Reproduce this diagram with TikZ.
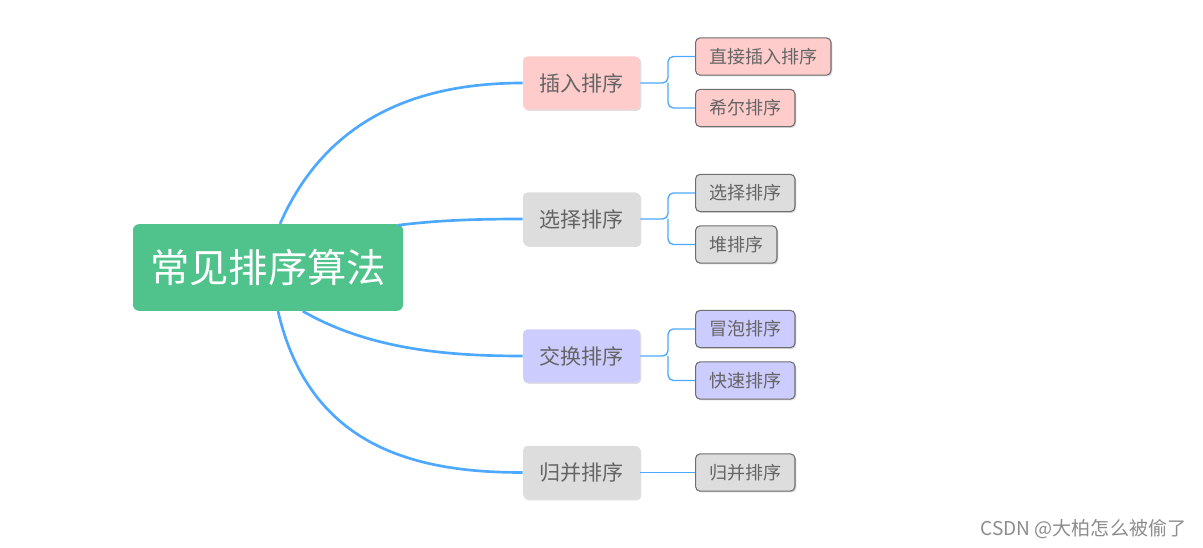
\documentclass[tikz,border=0pt]{standalone}
\usepackage{fontspec}
\setmainfont{Noto Sans CJK SC}
\usetikzlibrary{shadows}
\definecolor{rootgreen}{RGB}{80,195,140}
\definecolor{linkblue}{RGB}{77,169,255}
\definecolor{pinkfill}{RGB}{255,204,204}
\definecolor{greyfill}{RGB}{221,221,221}
\definecolor{bluefill}{RGB}{204,204,255}
\definecolor{txtgrey}{RGB}{100,100,100}
\definecolor{edgegrey}{RGB}{110,110,110}
\tikzset{
  rootbox/.style={fill=rootgreen, rounded corners=4.5pt, text=white, font=\fontsize{29.5}{31}\selectfont, minimum width=202.5pt, minimum height=65pt, inner sep=0pt},
  mainbox/.style={rounded corners=3.5pt, text=txtgrey, font=\fontsize{15.8}{17}\selectfont, minimum width=87.75pt, minimum height=40pt, inner sep=0pt, drop shadow={shadow xshift=1pt, shadow yshift=-1pt, opacity=0.25}},
  subbox/.style={draw=edgegrey, line width=0.8pt, rounded corners=3.5pt, text=txtgrey, font=\fontsize{13.5}{15}\selectfont, minimum height=28pt, inner xsep=10.3pt, inner ysep=0pt, drop shadow={shadow xshift=1pt, shadow yshift=-1pt, opacity=0.3}},
  biglink/.style={draw=linkblue, line width=2pt},
  smalllink/.style={draw=linkblue, line width=1pt, rounded corners=4pt},
}
\begin{document}
\begin{tikzpicture}[x=0.75pt,y=-0.75pt]
\useasboundingbox (0,0) rectangle (1203,548);
% root
\node[rootbox] (root) at (268,267.5) {常见排序算法};
% level 1
\node[mainbox, fill=pinkfill] (n1) at (581.5,83) {插入排序};
\node[mainbox, fill=greyfill] (n2) at (581.5,219) {选择排序};
\node[mainbox, fill=bluefill] (n3) at (581.5,356) {交换排序};
\node[mainbox, fill=greyfill] (n4) at (581.5,472.5) {归并排序};
% level 2
\node[subbox, fill=pinkfill, anchor=west] (c1) at (695,56.5) {直接插入排序};
\node[subbox, fill=pinkfill, anchor=west] (c2) at (695,108) {希尔排序};
\node[subbox, fill=greyfill, anchor=west] (c3) at (695,193) {选择排序};
\node[subbox, fill=greyfill, anchor=west] (c4) at (695,244.5) {堆排序};
\node[subbox, fill=bluefill, anchor=west] (c5) at (695,329) {冒泡排序};
\node[subbox, fill=bluefill, anchor=west] (c6) at (695,380.5) {快速排序};
\node[subbox, fill=greyfill, anchor=west] (c7) at (695,472.5) {归并排序};
% root links
\draw[biglink] ([xshift=9pt]root.north) .. controls (330,110) and (430,83) .. (n1.west);
\draw[biglink] ([xshift=-4pt,yshift=-1pt]root.north east) .. controls (440,220) and (480,219) .. (n2.west);
\draw[biglink] ([xshift=26pt]root.south) .. controls (370,350) and (450,356) .. (n3.west);
\draw[biglink] ([xshift=7.5pt]root.south) .. controls (310,450) and (420,472.5) .. (n4.west);
% sub links
\coordinate (b1) at (668,83);
\coordinate (b2) at (668,219);
\coordinate (b3) at (668,356);
\draw[smalllink] (n1.east) -- (b1) |- (c1.west);
\draw[smalllink] (b1) |- (c2.west);
\draw[smalllink] (n2.east) -- (b2) |- (c3.west);
\draw[smalllink] (b2) |- (c4.west);
\draw[smalllink] (n3.east) -- (b3) |- (c5.west);
\draw[smalllink] (b3) |- (c6.west);
\draw[smalllink] (n4.east) -- (c7.west);
% watermark
\node[text=black!45, font=\fontsize{14.3}{16}\selectfont, anchor=east] (wm) at (1191,529) {CSDN @大柏怎么被偷了};
\end{tikzpicture}
\end{document}
